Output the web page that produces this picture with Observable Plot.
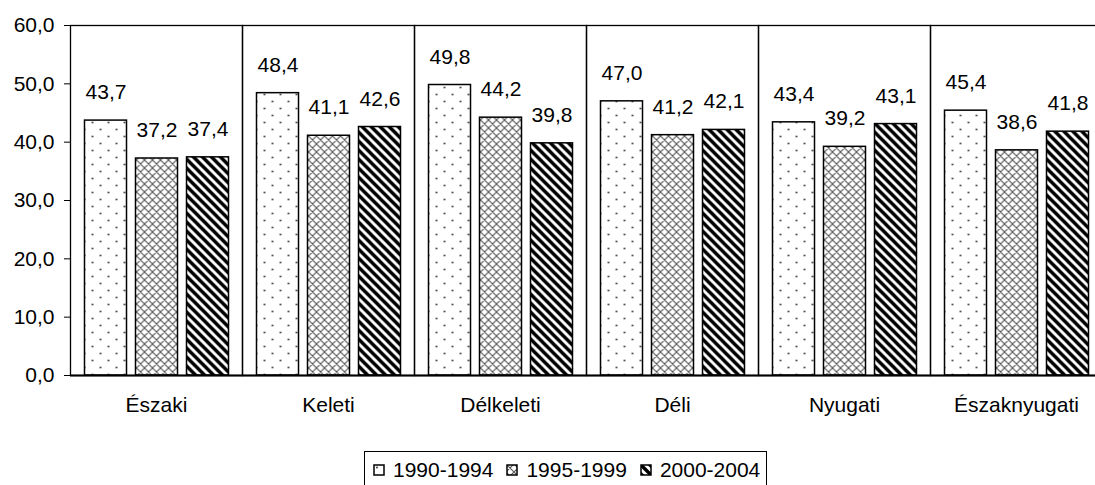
<!DOCTYPE html>
<html><head><meta charset="utf-8">
<script src="https://cdn.jsdelivr.net/npm/d3@7"></script>
<script src="https://cdn.jsdelivr.net/npm/@observablehq/plot@0.6"></script>
<style>
body{margin:0;background:#fff;font-family:"Liberation Sans",Arial,sans-serif;overflow:hidden}
#chart{position:relative;width:1095px;height:485px}
#legend{position:absolute;left:364px;top:451px;height:40px;padding:6px 6px 0 8px;border:1px solid #000;border-bottom:none;box-sizing:border-box;font-size:21px;white-space:nowrap;display:flex;align-items:flex-start}
#legend .item{display:inline-flex;align-items:center;margin-right:13px}
#legend .item:last-child{margin-right:0}
#legend svg{margin-right:8px}
</style></head><body><div id="chart"></div>
<script>
const regions = ["Északi","Keleti","Délkeleti","Déli","Nyugati","Északnyugati"];
const periods = ["1990-1994","1995-1999","2000-2004"];
const v1990 = [43.7,48.4,49.8,47.0,43.4,45.4];
const v1995 = [37.2,41.1,44.2,41.2,39.2,38.6];
const v2000 = [37.4,42.6,39.8,42.1,43.1,41.8];
const yTicks = [0,10,20,30,40,50,60];
const patternIds = ["pat-dots","pat-cross","pat-stripes"];

const series = [v1990, v1995, v2000];
const data = regions.flatMap((r,i)=>series.map((s,j)=>({region:r, period:periods[j], value:s[i]})));
const fmt = d => d.toFixed(1).replace(".", ",");
const font = '"Liberation Sans", Arial, sans-serif';

const plot = Plot.plot({
  width:1095, height:440,
  marginTop:25, marginBottom:65, marginLeft:69.5, marginRight:0,
  style:{fontFamily:font, fontSize:"21px", color:"#000", background:"#fff", overflow:"hidden"},
  fx:{domain:regions, range:[69.5,1103], padding:0, label:null},
  x:{domain:periods, paddingInner:0.18, paddingOuter:0.255, axis:null},
  y:{domain:[0,60], range:[375,25]},
  color:{domain:periods, range:patternIds.map(id=>`url(#${id})`)},
  marks:[
    Plot.frame({stroke:"#000", strokeWidth:1.3}),
    Plot.barY(data,{fx:"region", x:"period", y:"value", fill:"period", stroke:"#000", strokeWidth:1.5}),
    Plot.ruleY([0],{stroke:"#000", strokeWidth:1.8}),
    Plot.text(data,{fx:"region", x:"period", y:"value", text:d=>fmt(d.value), dy:-21.5, lineAnchor:"bottom", fontSize:21, fill:"#000"}),
    Plot.axisY({ticks:yTicks, tickFormat:fmt, tickSize:6, tickPadding:10, label:null, fontSize:21}),
    Plot.axisFx({tickSize:0, tickPadding:22, label:null, anchor:"bottom", fontSize:21})
  ]
});

const defs = d3.select(plot).insert("defs", ":first-child");
const pd = defs.append("pattern").attr("id","pat-dots").attr("patternUnits","userSpaceOnUse").attr("width",16).attr("height",14);
pd.append("rect").attr("width",16).attr("height",14).attr("fill","#fff");
pd.append("circle").attr("cx",4).attr("cy",3.5).attr("r",0.95).attr("fill","#333");
pd.append("circle").attr("cx",12).attr("cy",10.5).attr("r",0.95).attr("fill","#333");
const pc = defs.append("pattern").attr("id","pat-cross").attr("patternUnits","userSpaceOnUse").attr("width",8).attr("height",8);
pc.append("rect").attr("width",8).attr("height",8).attr("fill","#fff");
pc.append("path").attr("d","M0,0L8,8M8,0L0,8M-1,7L1,9M7,-1L9,1M-1,1L1,-1M7,9L9,7").attr("stroke","#555").attr("stroke-width",1.1);
const ps = defs.append("pattern").attr("id","pat-stripes").attr("patternUnits","userSpaceOnUse").attr("width",9).attr("height",9);
ps.append("rect").attr("width",9).attr("height",9).attr("fill","#fff");
ps.append("path").attr("d","M-2,-2L11,11M-6.5,2.5L6.5,15.5M2.5,-6.5L15.5,6.5").attr("stroke","#000").attr("stroke-width",3.4);

const chart = document.getElementById("chart");
chart.appendChild(plot);

const legend = document.createElement("div");
legend.id = "legend";
periods.forEach((p,j)=>{
  const item = document.createElement("span");
  item.className = "item";
  item.innerHTML = `<svg width="12" height="12"><rect x="1" y="1" width="10" height="10" fill="url(#${patternIds[j]})" stroke="#000" stroke-width="1.5"/></svg>${p}`;
  legend.appendChild(item);
});
chart.appendChild(legend);
</script>
</body></html>
